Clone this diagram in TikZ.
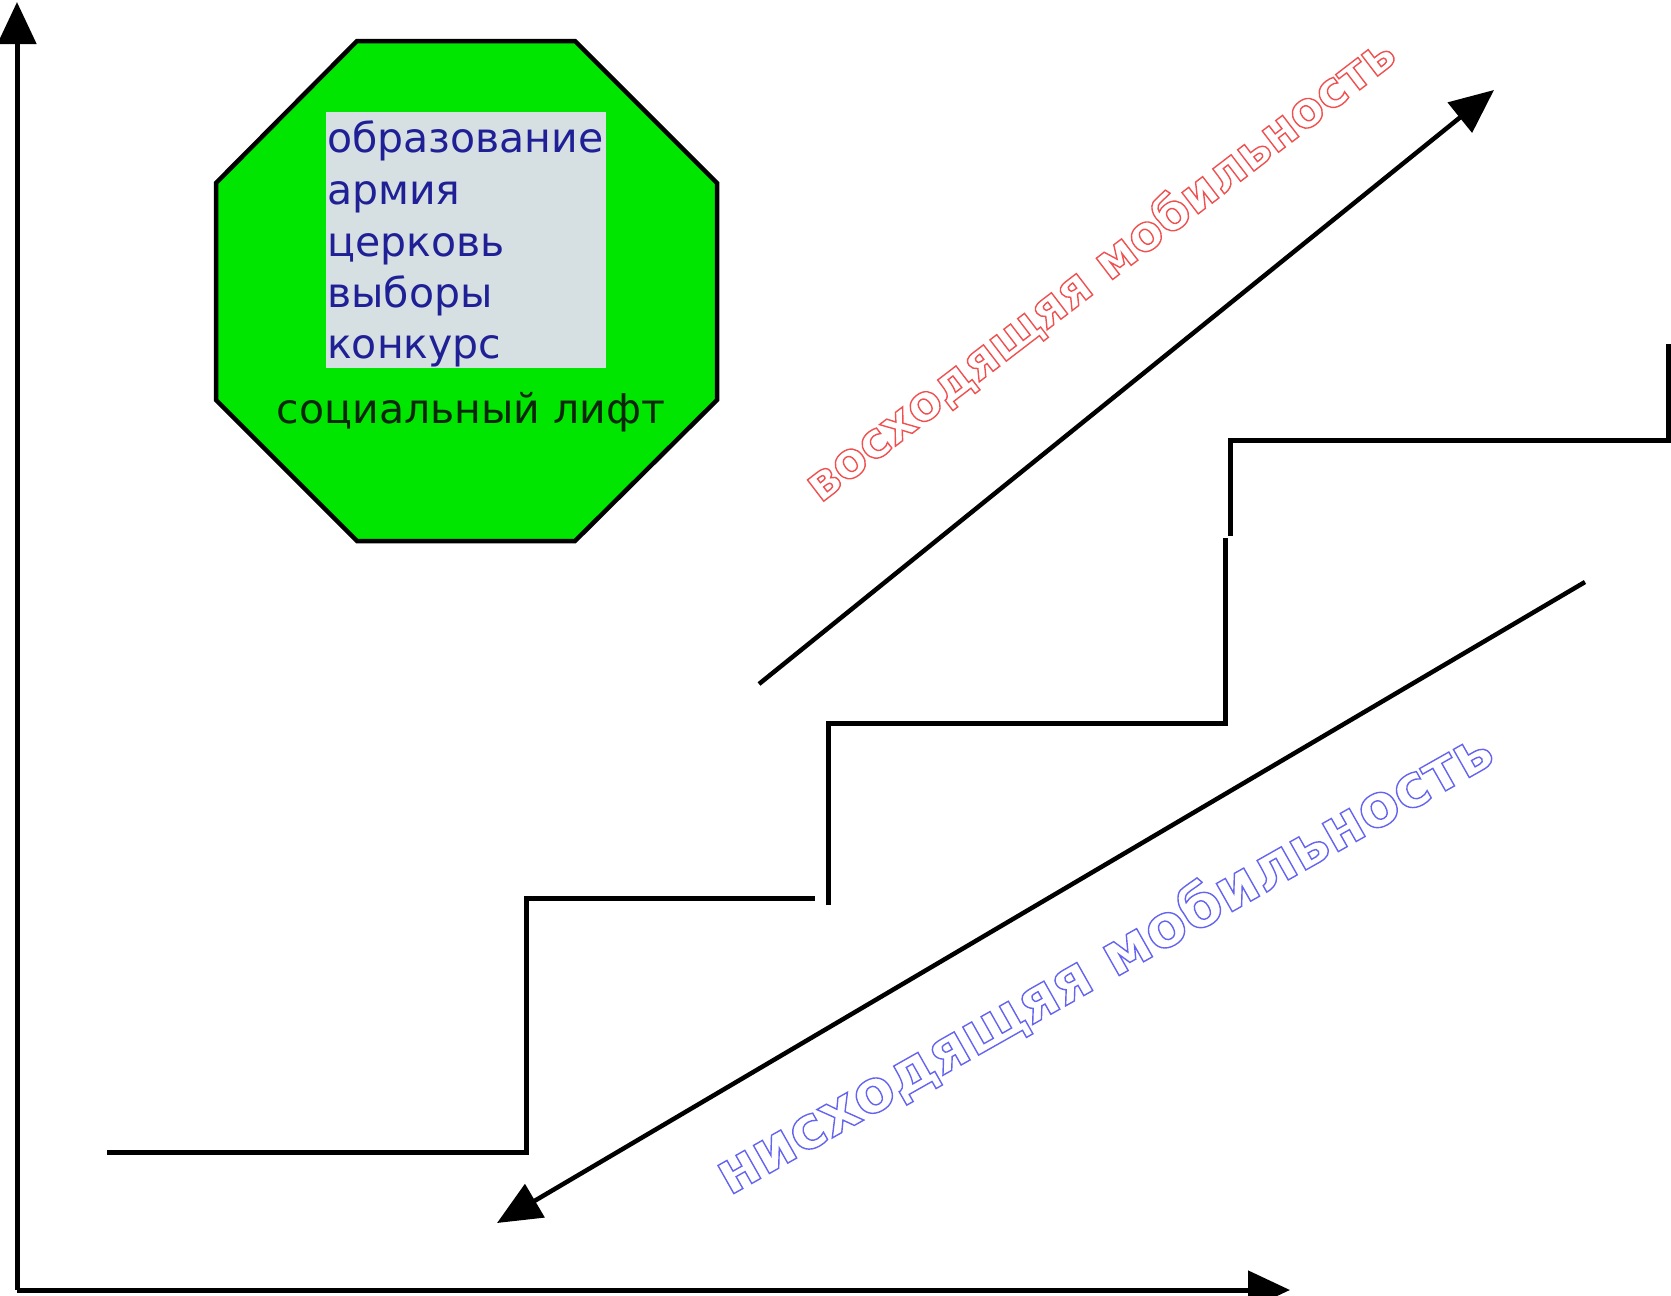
\documentclass[tikz,border=0pt]{standalone}
\usepackage{fontspec}
\setmainfont{DejaVu Sans}
\usetikzlibrary{arrows.meta}
\definecolor{octgreen}{RGB}{0,230,0}
\definecolor{boxgray}{RGB}{214,224,226}
\definecolor{listblue}{RGB}{32,32,150}
\definecolor{liftdark}{RGB}{12,40,12}
\definecolor{upred}{RGB}{240,80,80}
\definecolor{downblue}{RGB}{100,100,240}
\newcommand{\hollow}[1]{\special{pdf:literal direct 1 Tr 1.4 w}#1\special{pdf:literal direct 0 Tr}}
\tikzset{
  axisline/.style={line width=5pt, -{Triangle[length=42pt,width=38pt]}},
  stairline/.style={line width=5pt},
  mobarrow/.style={line width=4.5pt, -{Triangle[length=44pt,width=38pt]}},
  listitem/.style={anchor=base west, inner sep=0pt, text=listblue, font=\fontsize{41}{50}\selectfont},
  liftlabel/.style={anchor=base, inner sep=0pt, text=liftdark, font=\fontsize{41}{50}\selectfont},
  uplabel/.style={inner sep=0pt, text=upred, font=\bfseries\fontsize{49}{58}\selectfont},
  downlabel/.style={inner sep=0pt, text=downblue, font=\bfseries\fontsize{59}{70}\selectfont}
}
\begin{document}
\begin{tikzpicture}[x=1pt,y=-1pt]
\useasboundingbox (0,0) rectangle (1671,1296);
% axes
\coordinate (origin) at (17,1290);
\coordinate (ytip) at (17,2);
\coordinate (xtip) at (1290,1290);
\draw[axisline] (origin) -- (ytip);
\draw[axisline] (origin) -- (xtip);
% octagon
\draw[line width=4.5pt, fill=octgreen, line join=miter]
  (357,41) -- (575,41) -- (717,183) -- (717,400) -- (575,541) -- (357,541) -- (216,400) -- (216,183) -- cycle;
\fill[boxgray] (326,112) rectangle (606,368);
\node[listitem] (l1) at (327,152) {образование};
\node[listitem] (l2) at (327,204) {армия};
\node[listitem] (l3) at (327,256) {церковь};
\node[listitem] (l4) at (327,307) {выборы};
\node[listitem] (l5) at (327,358) {конкурс};
\node[liftlabel] (lift) at (471,423) {социальный лифт};
% stairs
\coordinate (s1) at (107,1152);
\coordinate (s2) at (526,1152);
\coordinate (s3) at (526,898);
\coordinate (s4) at (815,898);
\coordinate (s5) at (828,905);
\coordinate (s6) at (828,723);
\coordinate (s7) at (1225,723);
\coordinate (s8) at (1225,538);
\coordinate (s9) at (1230,536);
\coordinate (s10) at (1230,440);
\coordinate (s11) at (1668,440);
\coordinate (s12) at (1668,344);
\draw[stairline] (s1) -- (s2) -- (s3) -- (s4);
\draw[stairline] (s5) -- (s6) -- (s7) -- (s8);
\draw[stairline] (s9) -- (s10) -- (s11) -- (s12);
% mobility arrows
\coordinate (upstart) at (759,684);
\coordinate (uptip) at (1494,90);
\coordinate (downstart) at (1585,582);
\coordinate (downtip) at (497,1223);
\draw[mobarrow] (upstart) -- (uptip);
\draw[mobarrow] (downstart) -- (downtip);
\node[uplabel, rotate=37.5] (uptext) at (1100,269) {\hollow{восходящяя мобильность}};
\node[downlabel, rotate=29.5] (downtext) at (1104,962) {\hollow{нисходящяя мобильность}};
\end{tikzpicture}
\end{document}
